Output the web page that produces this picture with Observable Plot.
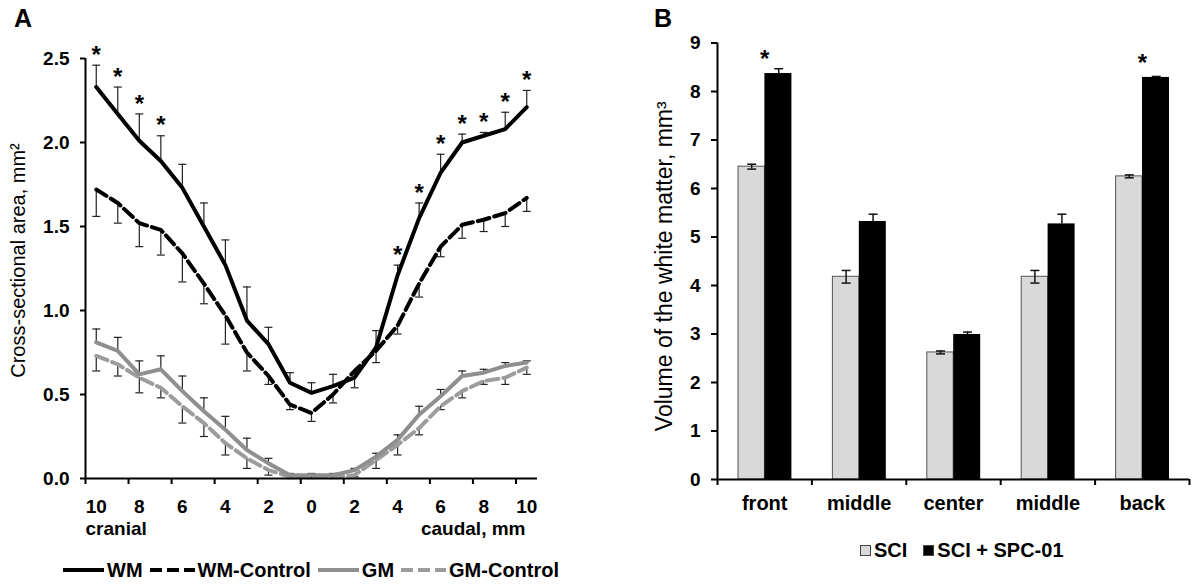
<!DOCTYPE html>
<html><head><meta charset="utf-8">
<script src="https://cdn.jsdelivr.net/npm/d3@7"></script>
<script src="https://cdn.jsdelivr.net/npm/@observablehq/plot@0.6"></script>
<style>
body{margin:0;background:#fff;}
#root{position:relative;width:1200px;height:585px;overflow:hidden;font-family:"Liberation Sans",Arial,sans-serif;color:#000;}
.plot{position:absolute;top:0;}
.letter{position:absolute;font-weight:bold;font-size:25px;line-height:1;}
.legend{position:absolute;display:flex;align-items:center;font-size:20px;font-weight:bold;white-space:nowrap;line-height:1;}
.legend svg{display:block;}
</style></head><body><div id="root"></div>
<script>
// ---------- Panel A data ----------
const positionA = [-10,-9,-8,-7,-6,-5,-4,-3,-2,-1,0,1,2,3,4,5,6,7,8,9,10];
const xLabelPosA = [-10,-8,-6,-4,-2,0,2,4,6,8,10];
const xTickPosA = [-10.5,-8.5,-6.5,-4.5,-2.5,-0.5,1.5,3.5,5.5,7.5,9.5];
const yTicksA = [0,0.5,1,1.5,2,2.5];
const seriesNamesA = ["WM","WM-Control","GM","GM-Control"];
const wm = [2.33,2.17,2.01,1.89,1.73,1.50,1.27,0.94,0.80,0.57,0.51,0.55,0.60,0.78,1.21,1.55,1.82,2.00,2.04,2.08,2.21];
const wmErr = [0.13,0.16,0.16,0.15,0.14,0.14,0.15,0.20,0.10,0.06,0.06,0.07,0.03,0.10,0.06,0.09,0.11,0.05,0.02,0.10,0.10];
const wmControl = [1.72,1.64,1.52,1.48,1.34,1.16,0.97,0.75,0.61,0.44,0.39,0.50,0.64,0.76,0.91,1.16,1.38,1.51,1.54,1.58,1.67];
const wmControlErr = [0.16,0.12,0.14,0.15,0.17,0.12,0.17,0.11,0.05,0.03,0.05,0.05,0.10,0.07,0.05,0.08,0.06,0.08,0.07,0.08,0.08];
const gm = [0.81,0.76,0.62,0.65,0.52,0.40,0.29,0.17,0.09,0.02,0.02,0.02,0.05,0.13,0.23,0.38,0.49,0.61,0.63,0.67,0.69];
const gmErr = [0.08,0.08,0.08,0.08,0.09,0.08,0.08,0.07,0.03,0.01,0.01,0.01,0.01,0.02,0.03,0.05,0.04,0.03,0.02,0.02,0.01];
const gmControl = [0.73,0.68,0.60,0.54,0.43,0.33,0.21,0.12,0.05,0.01,0.01,0.01,0.02,0.11,0.20,0.30,0.43,0.52,0.58,0.60,0.66];
const gmControlErr = [0.09,0.07,0.09,0.06,0.10,0.08,0.07,0.06,0.03,0.01,0.01,0.01,0.01,0.05,0.06,0.04,0.02,0.04,0.02,0.04,0.04];
const wmSignificant = [1,1,1,1,0,0,0,0,0,0,0,0,0,0,1,1,1,1,1,1,1];

// ---------- Panel B data ----------
const regionsB = ["front","middle","center","middle","back"];
const regionIndexB = [0,1,2,3,4];
const sci = [6.45,4.18,2.62,4.18,6.25];
const sciErr = [0.05,0.13,0.03,0.13,0.03];
const sciSpc = [8.37,5.32,2.99,5.27,8.29];
const sciSpcErr = [0.10,0.15,0.05,0.20,0.02];
const significantB = [1,0,0,0,1];
const groupNamesB = ["SCI","SCI + SPC-01"];
const yTicksB = [0,1,2,3,4,5,6,7,8,9];

const FONT = '"Liberation Sans", Arial, sans-serif';
const cap = (hw) => ({draw(ctx){ ctx.moveTo(-hw,0); ctx.lineTo(hw,0); }});

// ---------- Build panel A ----------
const styleA = {
  "WM": {stroke:"#000", dash:null, dir:1, values:wm, err:wmErr},
  "WM-Control": {stroke:"#000", dash:"12,5", dir:-1, values:wmControl, err:wmControlErr},
  "GM": {stroke:"#8f8f8f", dash:null, dir:1, values:gm, err:gmErr},
  "GM-Control": {stroke:"#9c9c9c", dash:"12,5", dir:-1, values:gmControl, err:gmControlErr}
};
const longA = seriesNamesA.flatMap(name => positionA.map((p,i) => {
  const s = styleA[name];
  return {series:name, p, v:s.values[i], end:s.values[i] + s.dir*s.err[i], sig: name==="WM" && wmSignificant[i]===1};
}));
const drawOrder = ["GM-Control","GM","WM-Control","WM"];

const errMarks = [
  Plot.ruleX(longA, {x:"p", y1:"v", y2:"end", stroke:"#222", strokeWidth:1.2}),
  Plot.dot(longA, {x:"p", y:"end", symbol:cap(4), r:3, fill:"none", stroke:"#222", strokeWidth:1.2})
];
const lineMarks = drawOrder.map(name => Plot.line(longA.filter(d => d.series===name), {
  x:"p", y:"v", stroke:styleA[name].stroke, strokeWidth:4, strokeDasharray:styleA[name].dash, strokeLinejoin:"round"
}));

const plotA = Plot.plot({
  width:600, height:585,
  marginLeft:85, marginRight:63, marginTop:58, marginBottom:107,
  x:{domain:[-10.5,10.5]},
  y:{domain:[0,2.5]},
  style:{fontFamily:FONT, fontSize:"19px", fontWeight:"bold", color:"#000", background:"transparent", overflow:"visible"},
  marks:[
    ...errMarks,
    ...lineMarks,
    Plot.text(longA.filter(d => d.sig), {x:"p", y:"end", text:() => "*", fontSize:24, fontWeight:"bold", dy:-10}),
    Plot.ruleY([0], {stroke:"#000", strokeWidth:2}),
    Plot.ruleX([-10.5], {stroke:"#000", strokeWidth:2}),
    Plot.axisY({ticks:yTicksA, tickFormat:d3.format(".1f"), tickSize:5, tickPadding:11, strokeWidth:2, label:null}),
    Plot.axisX({ticks:xTickPosA, tickFormat:() => "", tickSize:6, strokeWidth:2, label:null}),
    Plot.axisX({ticks:xLabelPosA, tickFormat:Math.abs, tickSize:0, tickPadding:21, label:null}),
    Plot.text(["cranial"], {x:-10.5, y:0, text:d => d, textAnchor:"start", dy:50, dx:0}),
    Plot.text(["caudal, mm"], {x:10.5, y:0, text:d => d, textAnchor:"end", dy:50, dx:-12}),
    Plot.text(["Cross-sectional area, mm²"], {frameAnchor:"left", textAnchor:"middle", text:d => d, rotate:-90, dx:-67, dy:-8, fontWeight:"normal", fontSize:20})
  ]
});
plotA.classList.add("plot");
plotA.style.left = "0px";

// ---------- Build panel B ----------
const rowsB = regionIndexB.map(i => ({
  i, region:regionsB[i], sci:sci[i], sciLo:sci[i]-sciErr[i], sciHi:sci[i]+sciErr[i],
  spc:sciSpc[i], spcHi:sciSpc[i]+sciSpcErr[i], sig:significantB[i]===1
}));
const xTickPosB = [-0.5,0.5,1.5,2.5,3.5,4.5];

const plotB = Plot.plot({
  width:600, height:585,
  marginLeft:117, marginRight:11, marginTop:42.5, marginBottom:106,
  x:{domain:[-0.5,4.5]},
  y:{domain:[0,9]},
  style:{fontFamily:FONT, fontSize:"19px", fontWeight:"bold", color:"#000", background:"transparent", overflow:"visible"},
  marks:[
    Plot.rectY(rowsB, {x1:d => d.i-0.5, x2:d => d.i+0.5, y:"sci", fill:"#d9d9d9", stroke:"#555", strokeWidth:1, insetLeft:21, insetRight:47}),
    Plot.rectY(rowsB, {x1:d => d.i-0.5, x2:d => d.i+0.5, y:"spc", fill:"#000", insetLeft:47.4, insetRight:20}),
    Plot.ruleX(rowsB, {x:"i", y1:"sciLo", y2:"sciHi", dx:-13, stroke:"#111", strokeWidth:1.5}),
    Plot.dot(rowsB, {x:"i", y:"sciLo", dx:-13, symbol:cap(4.5), r:3, fill:"none", stroke:"#111", strokeWidth:1.5}),
    Plot.dot(rowsB, {x:"i", y:"sciHi", dx:-13, symbol:cap(4.5), r:3, fill:"none", stroke:"#111", strokeWidth:1.5}),
    Plot.ruleX(rowsB, {x:"i", y1:"spc", y2:"spcHi", dx:14, stroke:"#111", strokeWidth:1.5}),
    Plot.dot(rowsB, {x:"i", y:"spcHi", dx:14, symbol:cap(4.5), r:3, fill:"none", stroke:"#111", strokeWidth:1.5}),
    Plot.text(rowsB.filter(d => d.sig), {x:"i", y:"spc", text:() => "*", fontSize:24, fontWeight:"bold", dy:-14}),
    Plot.ruleY([0], {stroke:"#000", strokeWidth:2}),
    Plot.ruleX([-0.5], {stroke:"#000", strokeWidth:2}),
    Plot.axisY({ticks:yTicksB, tickFormat:d3.format("d"), tickSize:6, tickPadding:11, strokeWidth:2, label:null, fontSize:19}),
    Plot.axisX({ticks:xTickPosB, tickFormat:() => "", tickSize:6, strokeWidth:2, label:null}),
    Plot.axisX({ticks:regionIndexB, tickFormat:i => regionsB[i], tickSize:0, tickPadding:16, label:null, fontSize:20}),
    Plot.text(["Volume of the white matter, mm³"], {frameAnchor:"left", textAnchor:"middle", text:d => d, rotate:-90, dx:-53, dy:5, fontWeight:"normal", fontSize:23})
  ]
});
plotB.classList.add("plot");
plotB.style.left = "600px";

const root = document.getElementById("root");
root.appendChild(plotA);
root.appendChild(plotB);

// panel letters
for (const [t, x] of [["A",14],["B",654]]) {
  const el = document.createElement("div");
  el.className = "letter"; el.textContent = t;
  el.style.left = x + "px"; el.style.top = "6px";
  root.appendChild(el);
}

// legend A
function lineSwatch(color, dash) {
  const w = dash ? 47 : 43;
  return `<svg width="${w}" height="10"><line x1="1" x2="${w-1}" y1="5" y2="5" stroke="${color}" stroke-width="4" ${dash ? `stroke-dasharray="${dash}"` : ""}/></svg>`;
}
const legA = document.createElement("div");
legA.className = "legend";
legA.style.left = "62px"; legA.style.top = "560px";
legA.innerHTML = seriesNamesA.map(n =>
  `<span style="display:flex;align-items:center;margin-right:6px">${lineSwatch(styleA[n].stroke, styleA[n].dash ? "12,5" : null)}<span style="margin-left:2px">${n}</span></span>`
).join("");
root.appendChild(legA);

// legend B
const legB = document.createElement("div");
legB.className = "legend";
legB.style.left = "860px"; legB.style.top = "540px";
const fillsB = ["#d9d9d9","#000"];
legB.innerHTML = groupNamesB.map((n,k) =>
  `<span style="display:flex;align-items:center;margin-right:16px"><span style="display:inline-block;width:9px;height:9px;background:${fillsB[k]};border:1px solid #444;margin-right:3px"></span>${n}</span>`
).join("");
root.appendChild(legB);
</script></body></html>
